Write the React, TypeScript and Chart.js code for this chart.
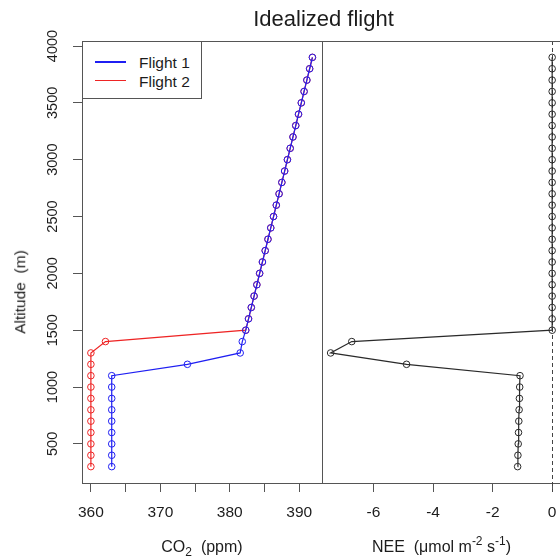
import React, { useEffect, useRef } from 'react';
import { Chart, registerables } from 'chart.js';

Chart.register(...registerables);

// ---- data ----
const altitudes = [
  300, 400, 500, 600, 700, 800, 900, 1000, 1100, 1200, 1300, 1400, 1500, 1600,
  1700, 1800, 1900, 2000, 2100, 2200, 2300, 2400, 2500, 2600, 2700, 2800, 2900,
  3000, 3100, 3200, 3300, 3400, 3500, 3600, 3700, 3800, 3900,
];

const flight1Co2 = [
  363.0, 363.0, 363.0, 363.0, 363.0, 363.0, 363.0, 363.0, 363.0, 373.9, 381.5,
  381.8, 382.3, 382.7, 383.1, 383.5, 383.9, 384.3, 384.7, 385.1, 385.5, 385.9,
  386.3, 386.7, 387.1, 387.5, 387.9, 388.3, 388.7, 389.1, 389.5, 389.9, 390.3,
  390.7, 391.1, 391.5, 391.9,
];

const flight2Co2 = [
  360.0, 360.0, 360.0, 360.0, 360.0, 360.0, 360.0, 360.0, 360.0, 360.0, 360.0,
  362.1, 382.3, 382.7, 383.1, 383.5, 383.9, 384.3, 384.7, 385.1, 385.5, 385.9,
  386.3, 386.7, 387.1, 387.5, 387.9, 388.3, 388.7, 389.1, 389.5, 389.9, 390.3,
  390.7, 391.1, 391.5, 391.9,
];

const neeValues = [
  -1.16, -1.15, -1.14, -1.13, -1.12, -1.11, -1.10, -1.09, -1.08, -4.89, -7.44,
  -6.73, 0, 0, 0, 0, 0, 0, 0, 0, 0, 0, 0, 0, 0, 0, 0, 0, 0, 0, 0, 0, 0, 0, 0, 0, 0,
];

const seriesNames = ['Flight 1', 'Flight 2'];
const seriesColors = ['#1f1ff2', '#ee2424'];
const neeColor = '#2a2a2a';

const altitudeTicks = [500, 1000, 1500, 2000, 2500, 3000, 3500, 4000];
const co2Ticks = [360, 365, 370, 375, 380, 385, 390];
const co2LabelledTicks = [360, 370, 380, 390];
const neeTicks = [-6, -4, -2, 0];

const altitudeRange = [156, 4044];
const co2Range = [358.72, 393.28];
const neeRange = [-7.73, 0.297];

const titleText = 'Idealized flight';

// ---- styling ----
const FONT = '"Liberation Sans", Arial, Helvetica, sans-serif';
const AXIS_COLOR = '#555555';
const TEXT_COLOR = '#1c1c1c';

const toPoints = (xs: number[]) => xs.map((x, i) => ({ x, y: altitudes[i] }));

const framePlugin = (opts: { top?: boolean; right?: boolean; zeroLine?: boolean }) => ({
  id: 'frame',
  beforeDatasetsDraw(chart: any) {
    if (!opts.zeroLine) return;
    const { ctx, chartArea: a } = chart;
    const x = Math.round(chart.scales.x.getPixelForValue(0)) + 0.5;
    ctx.save();
    ctx.strokeStyle = '#444';
    ctx.lineWidth = 1;
    ctx.setLineDash([4, 3]);
    ctx.beginPath();
    ctx.moveTo(x, a.top);
    ctx.lineTo(x, a.bottom + 9);
    ctx.stroke();
    ctx.restore();
  },
  afterDraw(chart: any) {
    const { ctx, chartArea: a } = chart;
    ctx.save();
    ctx.strokeStyle = AXIS_COLOR;
    ctx.lineWidth = 1;
    ctx.beginPath();
    if (opts.top) {
      const y = Math.round(a.top) + 0.5;
      ctx.moveTo(a.left, y);
      ctx.lineTo(a.right + 1, y);
    }
    if (opts.right) {
      const x = Math.round(a.right) + 0.5;
      ctx.moveTo(x, a.top);
      ctx.lineTo(x, a.bottom);
    }
    ctx.stroke();
    ctx.restore();
  },
});

const gridOpts = {
  display: true,
  drawOnChartArea: false,
  drawTicks: true,
  tickLength: 9,
  color: AXIS_COLOR,
  tickColor: AXIS_COLOR,
  lineWidth: 1,
};

const borderOpts = { display: true, color: AXIS_COLOR, width: 1 };

const yScale = (display: boolean) => ({
  type: 'linear',
  display,
  min: altitudeRange[0],
  max: altitudeRange[1],
  afterBuildTicks: (s: any) => {
    s.ticks = altitudeTicks.map((v) => ({ value: v }));
  },
  afterFit: (s: any) => {
    if (display) s.width = 82;
  },
  ticks: {
    font: { family: FONT, size: 14.5 },
    color: TEXT_COLOR,
    minRotation: 90,
    maxRotation: 90,
    crossAlign: 'center',
    padding: 4,
    autoSkip: false,
    callback: (v: any) => String(v),
  },
  grid: gridOpts,
  border: borderOpts,
});

const xScale = (range: number[], ticks: number[], labelled: number[]) => ({
  type: 'linear',
  min: range[0],
  max: range[1],
  afterBuildTicks: (s: any) => {
    s.ticks = ticks.map((v) => ({ value: v }));
  },
  afterFit: (s: any) => {
    s.height = 77;
  },
  ticks: {
    font: { family: FONT, size: 15.5 },
    color: TEXT_COLOR,
    padding: 11,
    maxRotation: 0,
    minRotation: 0,
    autoSkip: false,
    callback: (v: any) => (labelled.includes(v) ? String(v) : ''),
  },
  grid: gridOpts,
  border: borderOpts,
});

const seriesStyle = (color: string) => ({
  borderColor: color,
  backgroundColor: 'rgba(0,0,0,0)',
  pointBorderColor: color,
  pointBackgroundColor: 'rgba(0,0,0,0)',
  pointRadius: 3.3,
  pointBorderWidth: 1,
  borderWidth: 1.2,
  showLine: true,
  tension: 0,
});

export default function App() {
  const leftRef = useRef<HTMLCanvasElement | null>(null);
  const rightRef = useRef<HTMLCanvasElement | null>(null);

  useEffect(() => {
    const common = {
      responsive: false,
      animation: false,
      events: [],
      plugins: { legend: { display: false }, tooltip: { enabled: false } },
    };

    const left = new Chart(leftRef.current as HTMLCanvasElement, {
      type: 'scatter',
      data: {
        datasets: [
          { label: seriesNames[0], data: toPoints(flight1Co2), ...seriesStyle(seriesColors[0]) },
          { label: seriesNames[1], data: toPoints(flight2Co2), ...seriesStyle(seriesColors[1]) },
        ],
      },
      options: {
        ...common,
        layout: { padding: { top: 41, right: 18, left: 0, bottom: 0 } },
        scales: {
          x: xScale(co2Range, co2Ticks, co2LabelledTicks),
          y: yScale(true),
        },
      } as any,
      plugins: [framePlugin({ top: true, right: true })],
    });

    const right = new Chart(rightRef.current as HTMLCanvasElement, {
      type: 'scatter',
      data: {
        datasets: [{ label: 'NEE', data: toPoints(neeValues), ...seriesStyle(neeColor) }],
      },
      options: {
        ...common,
        layout: { padding: { top: 41, right: 11, left: 10, bottom: 0 } },
        scales: {
          x: xScale(neeRange, neeTicks, neeTicks),
          y: yScale(false),
        },
      } as any,
      plugins: [framePlugin({ top: true, zeroLine: true })],
    });

    return () => {
      left.destroy();
      right.destroy();
    };
  }, []);

  const textBase: React.CSSProperties = {
    position: 'absolute',
    whiteSpace: 'nowrap',
    lineHeight: 1,
    color: TEXT_COLOR,
    fontFamily: FONT,
  };

  return (
    <div
      style={{
        position: 'fixed',
        left: 0,
        top: 0,
        width: 560,
        height: 560,
        overflow: 'hidden',
        background: '#ffffff',
      }}
    >
      <canvas
        ref={leftRef}
        width={340}
        height={560}
        style={{ position: 'absolute', left: 0, top: 0, width: 340, height: 560 }}
      />
      <canvas
        ref={rightRef}
        width={260}
        height={560}
        style={{ position: 'absolute', left: 312, top: 0, width: 260, height: 560 }}
      />

      {/* title */}
      <div style={{ ...textBase, left: 0, width: 647, top: 8, fontSize: 22, textAlign: 'center' }}>
        {titleText}
      </div>

      {/* x axis titles */}
      <div style={{ ...textBase, left: 82, width: 240, top: 539, fontSize: 16, textAlign: 'center' }}>
        CO<sub style={{ fontSize: '0.75em', verticalAlign: '-0.3em', lineHeight: 0 }}>2</sub>
        {'\u00a0\u00a0(ppm)'}
      </div>
      <div style={{ ...textBase, left: 322, width: 239, top: 539, fontSize: 16, textAlign: 'center' }}>
        {'NEE\u00a0\u00a0(\u03bcmol m'}
        <sup style={{ fontSize: '0.75em', verticalAlign: '0.55em', lineHeight: 0 }}>-2</sup>
        {' s'}
        <sup style={{ fontSize: '0.75em', verticalAlign: '0.55em', lineHeight: 0 }}>-1</sup>
        {')'}
      </div>

      {/* y axis title */}
      <div
        style={{
          ...textBase,
          left: 20,
          top: 292,
          fontSize: 15.5,
          transform: 'translate(-50%, -50%) rotate(-90deg)',
        }}
      >
        {'Altitude\u00a0\u00a0(m)'}
      </div>

      {/* legend */}
      <div
        style={{
          position: 'absolute',
          left: 82,
          top: 41,
          width: 120,
          height: 58,
          boxSizing: 'border-box',
          border: `1px solid ${AXIS_COLOR}`,
          background: '#ffffff',
        }}
      >
        {seriesNames.map((name, i) => (
          <div key={name}>
            <div
              style={{
                position: 'absolute',
                left: 12,
                top: 19 + i * 19,
                width: 31,
                height: 0,
                borderTop: `${i === 0 ? 2 : 1}px solid ${seriesColors[i]}`,
              }}
            />
            <div style={{ ...textBase, left: 56, top: 13 + i * 19, fontSize: 15.5 }}>{name}</div>
          </div>
        ))}
      </div>
    </div>
  );
}
